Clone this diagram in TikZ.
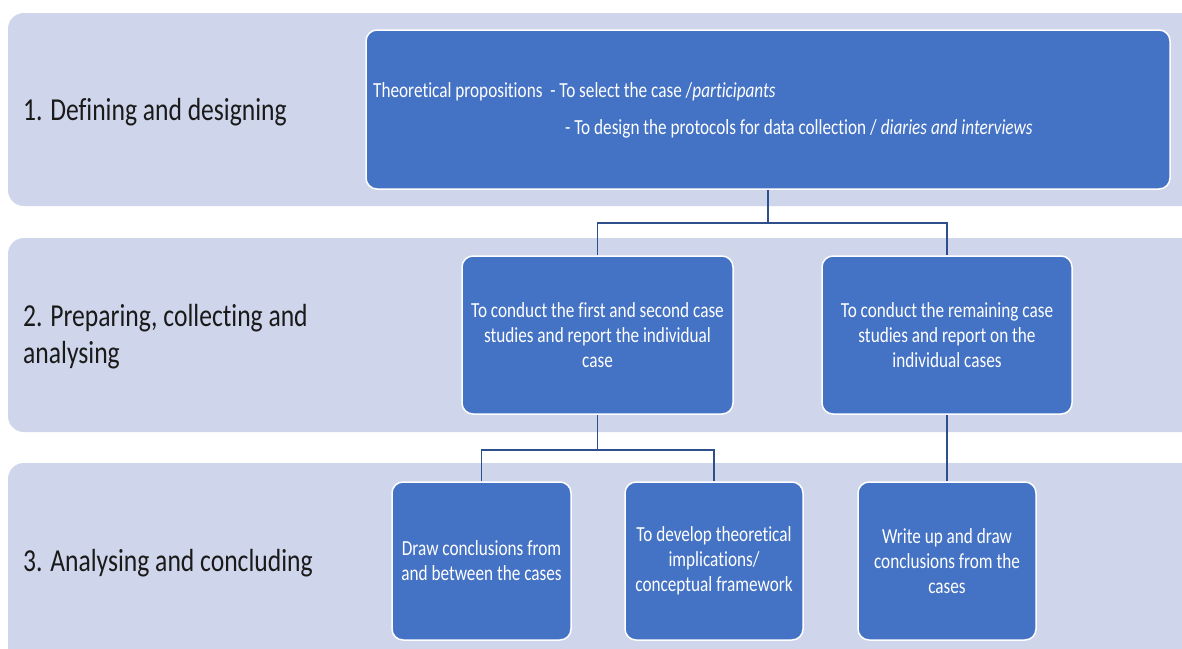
\documentclass[tikz,border=0pt]{standalone}
\usepackage{fontspec}
\setmainfont{Carlito}[FakeStretch=0.8, Ligatures={NoCommon}]
\usetikzlibrary{positioning}
\definecolor{bandfill}{HTML}{CFD5EA}
\definecolor{boxfill}{HTML}{4472C4}
\definecolor{linkcol}{HTML}{2F4F8C}
\definecolor{labelcol}{HTML}{1A1A1A}
\tikzset{
  band/.style={fill=bandfill, draw=none, rounded corners=16pt},
  stagebox/.style={rectangle, fill=boxfill, draw=white, line width=1.5pt,
    rounded corners=11pt, text=white, align=center, inner sep=0pt,
    font=\fontsize{21.5}{25}\selectfont},
  stagelabel/.style={text=labelcol, align=left, inner sep=0pt,
    font=\fontsize{32}{37}\selectfont},
  boxline/.style={text=white, inner sep=0pt, font=\fontsize{21.5}{25}\selectfont},
  link/.style={draw=linkcol, line width=1.6pt}
}
\begin{document}
\begin{tikzpicture}[x=1pt, y=-1pt]
\useasboundingbox (0,0) rectangle (1182,648);
\fill[white] (0,0) rectangle (1182,648);

% background bands
\path[band] (8,13) rectangle (1200,206);
\path[band] (8,238) rectangle (1200,432);
\path[band] (8,463) rectangle (1200,680);

% stage labels
\node[stagelabel, anchor=base west] (l1) at (23,120) {1. Defining and designing};
\node[stagelabel, anchor=west] (l2) at (23,337) {2. Preparing, collecting and\\analysing};
\node[stagelabel, anchor=base west] (l3) at (23,571) {3. Analysing and concluding};

% stage 1
\node[stagebox, minimum width=804pt, minimum height=159pt] (top) at (768,109.5) {};
\node[boxline, anchor=base west] (t1) at (373,97) {Theoretical propositions\ \ - To select the case /\textit{participants}};
\node[boxline, anchor=base west] (t2) at (565,134) {- To design the protocols for data collection / \textit{diaries and interviews}};

% stage 2
\node[stagebox, minimum width=271pt, minimum height=158pt] (m1) at (597.5,335)
  {To conduct the first and second case\\studies and report the individual\\case};
\node[stagebox, minimum width=250pt, minimum height=158pt] (m2) at (947,335)
  {To conduct the remaining case\\studies and report on the\\individual cases};

% stage 3
\node[stagebox, minimum width=179pt, minimum height=158pt] (b1) at (481.5,561)
  {Draw conclusions from\\and between the cases};
\node[stagebox, minimum width=178pt, minimum height=158pt] (b2) at (714,561)
  {To develop theoretical\\implications/\\conceptual framework};
\node[stagebox, minimum width=178pt, minimum height=158pt] (b3) at (947,561)
  {Write up and draw\\conclusions from the\\cases};

% connectors
\draw[link] (top.south) -- ++(0,33) coordinate (j1) -| (m1.north);
\draw[link] (j1) -| (m2.north);
\draw[link] (m1.south) -- ++(0,35) coordinate (j2) -| (b1.north);
\draw[link] (j2) -| (b2.north);
\draw[link] (m2.south) -- (b3.north);
\end{tikzpicture}
\end{document}
